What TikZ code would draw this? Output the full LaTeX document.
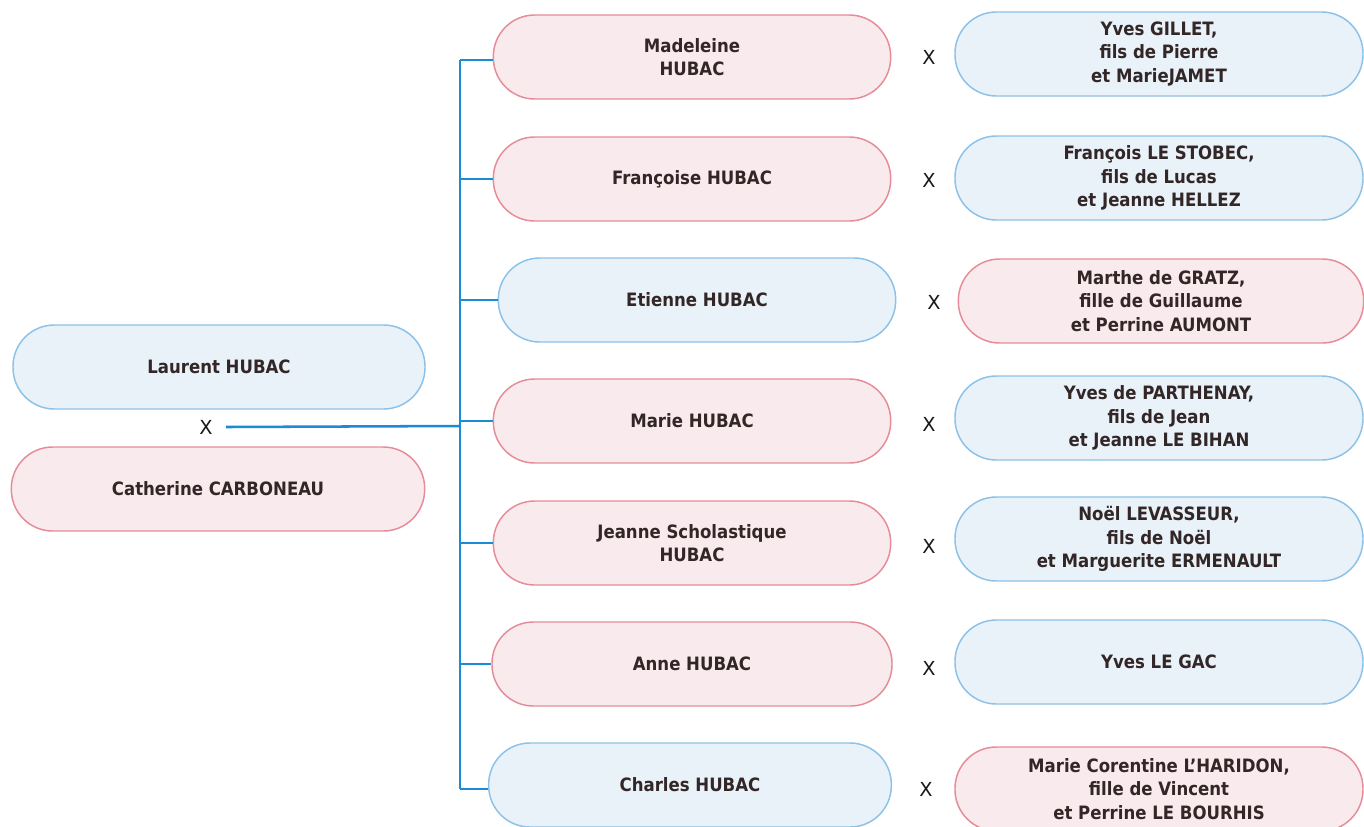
\documentclass[tikz,border=0pt]{standalone}
\usepackage{fontspec}
\setmainfont{DejaVu Sans Condensed}
\newfontfamily\markfont{DejaVu Sans}
\definecolor{pinkfill}{RGB}{248,234,237}
\definecolor{pinkline}{RGB}{230,140,152}
\definecolor{bluefill}{RGB}{233,241,249}
\definecolor{blueline}{RGB}{140,194,232}
\definecolor{txt}{RGB}{50,38,38}
\definecolor{link}{RGB}{26,140,214}
\tikzset{
  person/.style={rectangle, rounded corners=31pt, line width=1.1pt, minimum height=63pt,
    align=center, text=txt, font=\bfseries\fontsize{13.8}{17.6}\selectfont, inner sep=0pt},
  man/.style={person, draw=blueline, fill=bluefill},
  woman/.style={person, draw=pinkline, fill=pinkfill},
  marks/.style={font=\markfont\fontsize{14.5}{16}\selectfont, text=black!90, inner sep=1pt},
  tie/.style={draw=link, line width=1.9pt}
}
\begin{document}
\begin{tikzpicture}[x=0.75pt, y=-0.75pt]
\useasboundingbox (0,0) rectangle (1364,826);
% parents
\node[man, minimum width=309pt] (laurent) at (219,367) {Laurent HUBAC};
\node[woman, minimum width=310pt] (catherine) at (218,489) {Catherine CARBONEAU};
\node[marks] (xp) at (206,427) {X};
\coordinate (jn) at (460,426);
\coordinate (top) at (460,60);
\coordinate (bot) at (460,789);
% children
\node[woman, minimum width=298pt] (c1) at (692,57) {Madeleine\\HUBAC};
\node[woman, minimum width=298pt] (c2) at (692,179) {Françoise HUBAC};
\node[man, minimum width=298pt] (c3) at (697,300) {Etienne HUBAC};
\node[woman, minimum width=298pt] (c4) at (692,421) {Marie HUBAC};
\node[woman, minimum width=298pt] (c5) at (692,543) {Jeanne Scholastique\\HUBAC};
\node[woman, minimum width=300pt] (c6) at (692,664) {Anne HUBAC};
\node[man, minimum width=302pt] (c7) at (690,785) {Charles HUBAC};
% marks
\node[marks] (x1) at (929,57) {X};
\node[marks] (x2) at (929,180) {X};
\node[marks] (x3) at (934,302) {X};
\node[marks] (x4) at (929,424) {X};
\node[marks] (x5) at (929,546) {X};
\node[marks] (x6) at (929,668) {X};
\node[marks] (x7) at (926,789) {X};
% spouses
\node[man, minimum width=306pt] (s1) at (1159,54) {Yves GILLET,\\fils de Pierre\\et MarieJAMET};
\node[man, minimum width=306pt] (s2) at (1159,178) {François LE STOBEC,\\fils de Lucas\\et Jeanne HELLEZ};
\node[woman, minimum width=304pt] (s3) at (1161,301) {Marthe de GRATZ,\\fille de Guillaume\\et Perrine AUMONT};
\node[man, minimum width=306pt] (s4) at (1159,418) {Yves de PARTHENAY,\\fils de Jean\\et Jeanne LE BIHAN};
\node[man, minimum width=306pt] (s5) at (1159,539) {Noël LEVASSEUR,\\fils de Noël\\et Marguerite ERMENAULT};
\node[man, minimum width=306pt] (s6) at (1159,662) {Yves LE GAC};
\node[woman, minimum width=306pt] (s7) at (1159,789) {Marie Corentine L’HARIDON,\\fille de Vincent\\et Perrine LE BOURHIS};
% connectors
\draw[tie] (xp.east) ++(12,0) -- (jn);
\draw[tie] (top) -- (bot);
\draw[tie] (top) -- (top -| c1.west);
\foreach \c in {c2,c3,c4,c5,c6}{
  \draw[tie] (jn |- \c.west) -- (\c.west);
}
\draw[tie] (bot) -- (bot -| c7.west);
\end{tikzpicture}
\end{document}
